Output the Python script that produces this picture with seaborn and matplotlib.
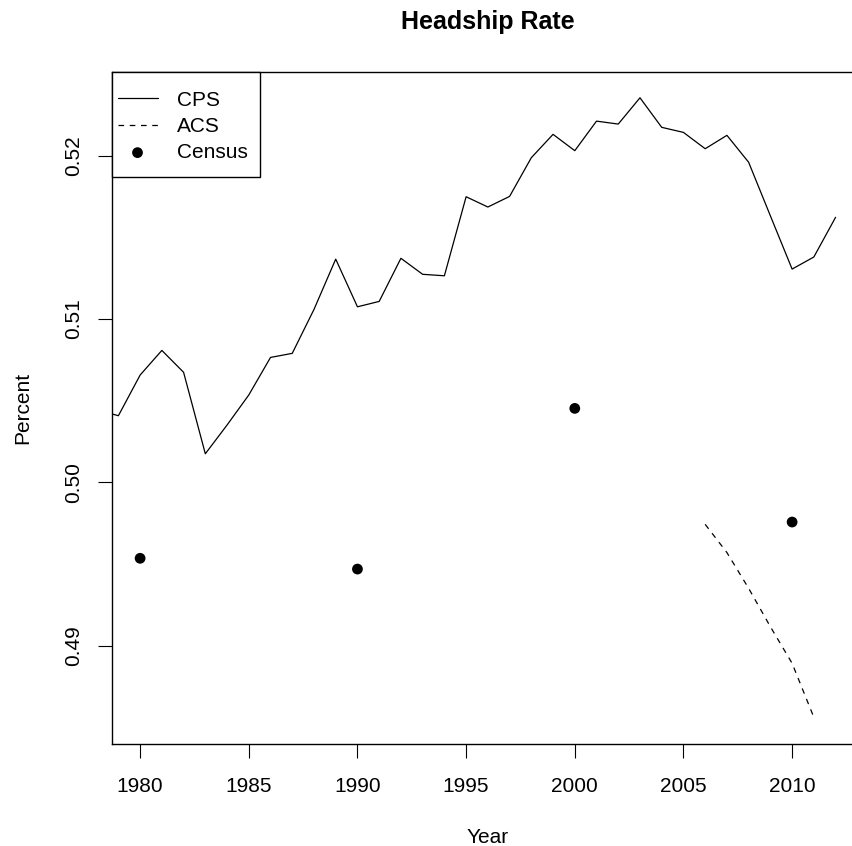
import numpy as np
import pandas as pd
import matplotlib
matplotlib.use("Agg")
import matplotlib.pyplot as plt
from matplotlib.path import Path
import seaborn as sns

# values
cps_years = list(range(1978, 2013))
cps_rate = [0.50445, 0.50408, 0.50657, 0.50808, 0.50674, 0.50175, 0.50351, 0.50535,
            0.50765, 0.50790, 0.51059, 0.51367, 0.51075, 0.51108, 0.51372, 0.51274,
            0.51265, 0.51749, 0.51686, 0.51751, 0.51988, 0.52131, 0.52031, 0.52212,
            0.52194, 0.52355, 0.52174, 0.52143, 0.52043, 0.52125, 0.51960, 0.51632,
            0.51306, 0.51380, 0.51623]

acs_years = [2006, 2007, 2008, 2009, 2010, 2011]
acs_rate = [0.49743, 0.49570, 0.49351, 0.49116, 0.48892, 0.48561]

census_years = [1980, 1990, 2000, 2010]
census_rate = [0.49535, 0.49469, 0.50453, 0.49757]

x_ticks = [1980, 1985, 1990, 1995, 2000, 2005, 2010]
y_ticks = [0.49, 0.50, 0.51, 0.52]
y_ticklabels = ["0.49", "0.50", "0.51", "0.52"]

cps = pd.DataFrame({"Year": cps_years, "Rate": cps_rate})
acs = pd.DataFrame({"Year": acs_years, "Rate": acs_rate})
census = pd.DataFrame({"Year": census_years, "Rate": census_rate})

sns.set_style("white")
plt.rcParams["font.family"] = ["Liberation Sans", "DejaVu Sans"]
plt.rcParams["axes.linewidth"] = 1.0
plt.rcParams["text.color"] = "black"
plt.rcParams["axes.labelcolor"] = "black"

W, H = 852, 846
fig = plt.figure(figsize=(W / 100, H / 100), dpi=100)
# plot box runs past the right edge, like the cropped original
ax = fig.add_axes([112.3 / W, 1 - 744.3 / H, (863.4 - 112.3) / W, (744.3 - 72.3) / H])

sns.lineplot(data=cps, x="Year", y="Rate", ax=ax, color="black", linewidth=0.9,
             label="CPS")
sns.lineplot(data=acs, x="Year", y="Rate", ax=ax, color="black", linewidth=0.9,
             label="ACS")
ax.lines[-1].set_dashes([4.5, 4.5])
sns.scatterplot(data=census, x="Year", y="Rate", ax=ax, color="black", s=60,
                edgecolor="none", label="Census", zorder=3)

ax.set_xlim(1978.72, 2013.28)
ax.set_ylim(0.48396, 0.52511)
ax.set_xticks(x_ticks)
ax.set_xticklabels([str(y) for y in x_ticks])
ax.set_yticks(y_ticks)
ax.set_yticklabels(y_ticklabels, rotation=90, va="center")

for s in ax.spines.values():
    s.set_color("black")
    s.set_linewidth(1.0)

ax.tick_params(axis="both", which="major", direction="out", length=10,
               width=0.8, color="black", labelsize=15, labelcolor="black",
               left=True, bottom=True)
ax.tick_params(axis="x", pad=13.5)
ax.tick_params(axis="y", pad=11)

ax.set_title("Headship Rate", fontsize=18, fontweight="bold", pad=31.5)
ax.set_xlabel("Year", fontsize=15, va="baseline")
ax.xaxis.set_label_coords((487.7 - 112.3) / (863.4 - 112.3), -99 / 672)
ax.set_ylabel("Percent", fontsize=15, va="center")
ax.yaxis.set_label_coords(-(112.3 - 23) / (863.4 - 112.3), 0.5)


# R-style legend box: more room above/below the rows than at the sides
def legend_box(x0, y0, width, height, mutation_size):
    x1 = x0 + width + 6.6
    top = y0 + height + 13
    bot = y0 - 9.4
    return Path([(x0, bot), (x1, bot), (x1, top), (x0, top), (x0, bot)], closed=True)


leg = ax.legend(loc="upper left", bbox_to_anchor=(0, 1 - 13 / 672), borderaxespad=0,
                fancybox=False, frameon=True, framealpha=1, edgecolor="black",
                fontsize=15, handlelength=1.92, handletextpad=0.95,
                labelspacing=0.35, borderpad=0.25)
leg.get_frame().set_boxstyle(legend_box)
leg.get_frame().set_linewidth(1.0)

fig.savefig("out.png", dpi=100)
